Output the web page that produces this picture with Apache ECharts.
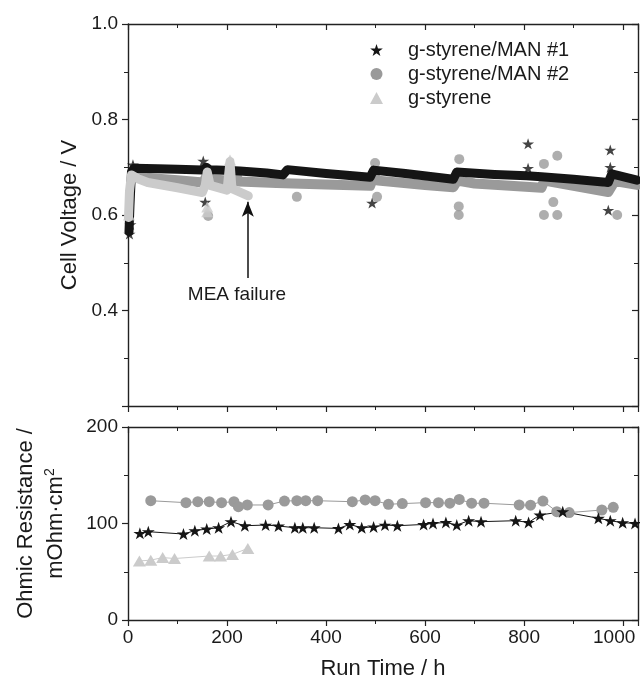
<!DOCTYPE html>
<html>
<head>
<meta charset="utf-8">
<script src="https://cdn.jsdelivr.net/npm/echarts@6/dist/echarts.min.js"></script>
<style>
html,body{margin:0;padding:0;background:#fff;}
#chart{width:640px;height:684px;}
</style>
</head>
<body>
<div id="chart"></div>
<script>
// ---------- DATA ----------
const seriesNames = ['g-styrene/MAN #1', 'g-styrene/MAN #2', 'g-styrene'];

// Cell voltage (dense bands) [time h, voltage V]
const man1Band = [[2,0.565],[4,0.62],[7,0.69],[12,0.698],[60,0.697],[100,0.696],[150,0.694],[158,0.70],[165,0.695],[206,0.693],[226,0.692],[280,0.688],[313,0.684],[322,0.695],[400,0.687],[489,0.679],[496,0.694],[560,0.687],[657,0.675],[664,0.690],[740,0.685],[805,0.682],[835,0.680],[900,0.675],[970,0.668],[977,0.686],[1028,0.673]];
const man1Outliers = [[3,0.56],[5,0.58],[10,0.705],[152,0.713],[156,0.627],[493,0.625],[808,0.749],[808,0.698],[974,0.736],[974,0.700],[970,0.61]];

const man2Band = [[14,0.680],[60,0.676],[100,0.673],[152,0.668],[160,0.685],[168,0.675],[210,0.671],[216,0.690],[224,0.670],[300,0.667],[400,0.664],[489,0.661],[496,0.680],[505,0.672],[600,0.663],[657,0.658],[665,0.672],[700,0.666],[835,0.657],[841,0.672],[900,0.661],[970,0.648],[983,0.671],[1028,0.663]];
const man2Outliers = [[162,0.598],[341,0.638],[499,0.709],[503,0.638],[669,0.717],[668,0.618],[668,0.600],[840,0.707],[867,0.724],[859,0.627],[840,0.600],[867,0.600],[988,0.600],[983,0.675]];

const styBand = [[1,0.595],[3,0.65],[7,0.684],[20,0.676],[40,0.668],[100,0.657],[150,0.647],[156,0.662],[160,0.690],[166,0.662],[200,0.652],[206,0.712],[210,0.655],[243,0.640]];
const styOutliers = [[160,0.617],[160,0.607],[206,0.715],[2,0.60]];

// Ohmic resistance [time h, mOhm·cm²]
const man1Res = [[24,89.8],[41,91.5],[112,89.1],[135,92.6],[159,94.3],[183,95.6],[208,101.9],[236,97.7],[278,98.4],[304,97.4],[337,95.6],[353,95.6],[376,95.6],[425,94.9],[448,99.0],[472,95.6],[496,96.5],[519,98.4],[544,97.7],[597,99.0],[616,100.1],[642,101.1],[664,98.4],[688,102.9],[713,101.9],[783,102.9],[809,101.1],[832,108.8],[878,112.3],[950,105.4],[974,102.9],[999,100.8],[1024,100.1]];
const man2Res = [[46,123.6],[117,121.6],[141,122.6],[164,122.6],[189,121.6],[214,122.6],[223,117.4],[241,119.2],[283,119.2],[316,123.3],[341,123.6],[359,123.6],[383,123.6],[453,122.6],[479,124.4],[499,123.6],[526,119.9],[554,120.6],[601,121.6],[627,121.6],[650,121.0],[669,125.0],[694,121.0],[719,121.0],[790,119.2],[813,119.0],[838,123.3],[866,112.3],[891,111.3],[957,114.0],[980,116.8]];
const styRes = [[23,61.2],[46,62.0],[70,64.7],[94,63.7],[164,66.3],[187,66.3],[211,68.0],[242,74.2]];

// annotation
const failureTime = 242;
const failureArrow = [0.468, 0.628];
const failureText = 'MEA failure';
const failureTextPos = [220, 0.432];

// axes
const xRange = [0, 1030];
const vRange = [0.2, 1.0];
const rRange = [0, 200];
const xTitle = 'Run Time / h';
const vTitle = 'Cell Voltage / V';
const rTitle = ['Ohmic Resistance /', 'mOhm·cm'];

// ---------- STYLE ----------
const C1 = '#151515', C2 = '#9a9a9a', C3 = '#cbcbcb';
const STAR = 'path://M50 0 L61.23 34.55 L97.55 34.55 L68.16 55.9 L79.39 90.45 L50 69.1 L20.61 90.45 L31.84 55.9 L2.45 34.55 L38.77 34.55 Z';
const FONT = 'Liberation Sans, Arial, sans-serif';
const AX = '#222';

const G0 = {left:128, top:24, width:510, height:382, containLabel:false, outerBoundsMode:'none'};
const G1 = {left:128, top:427, width:510, height:193, containLabel:false, outerBoundsMode:'none'};

function xAx(grid, pos, labels){
  return {
    type:'value', gridIndex:grid, position:pos, min:xRange[0], max:xRange[1], interval:200,
    axisLine:{show:true, onZero:false, lineStyle:{color:AX, width:1.4}},
    axisTick:{show:true, inside:pos==='top', length:6, lineStyle:{color:AX, width:1.2}},
    minorTick:{show:true, splitNumber:2, length:4, lineStyle:{color:AX, width:1}},
    axisLabel:{show:labels, color:'#1a1a1a', fontSize:19, fontFamily:FONT, margin:8,
      formatter:v=> v>1020 ? '' : (v===1000 ? '{r|1000}' : String(v)),
      rich:{r:{fontSize:19, fontFamily:FONT, color:'#1a1a1a', padding:[0,18,0,0]}}},
    splitLine:{show:false}, minorSplitLine:{show:false},
    name: labels ? xTitle : '', nameLocation:'middle', nameGap:38,
    nameTextStyle:{fontSize:22, color:'#1a1a1a', fontFamily:FONT}
  };
}
function yAx(grid, pos, range, itv, labels, fmt){
  return {
    type:'value', gridIndex:grid, position:pos, min:range[0], max:range[1], interval:itv,
    axisLine:{show:true, onZero:false, lineStyle:{color:AX, width:1.4}},
    axisTick:{show:true, inside:pos==='right', length:6, lineStyle:{color:AX, width:1.2}},
    minorTick:{show:true, splitNumber:2, length:4, lineStyle:{color:AX, width:1}},
    axisLabel:{show:labels, color:'#1a1a1a', fontSize:19, fontFamily:FONT, margin:10, formatter:fmt},
    splitLine:{show:false}, minorSplitLine:{show:false}
  };
}

const yTop = yAx(0,'left',vRange,0.2,true,v=> v<0.3?'':v.toFixed(1));
yTop.name = vTitle; yTop.nameLocation='middle'; yTop.nameGap=39; yTop.nameRotate=90;
yTop.nameTextStyle = {fontSize:22, color:'#1a1a1a', fontFamily:FONT};
const yBot = yAx(1,'left',rRange,100,true,v=>String(v));
yBot.name = '{a|' + rTitle[0] + '}\n{a|' + rTitle[1] + '}{s|2}';
yBot.nameLocation='middle'; yBot.nameGap=57; yBot.nameRotate=90;
yBot.nameTextStyle = {fontSize:22, color:'#1a1a1a', fontFamily:FONT, lineHeight:30,
  rich:{a:{fontSize:22, fontFamily:FONT, color:'#1a1a1a', lineHeight:30},
        s:{fontSize:14, fontFamily:FONT, color:'#1a1a1a', padding:[0,0,12,0]}}};

const option = {
  animation:false,
  backgroundColor:'#fff',
  grid:[G0, G1],
  xAxis:[xAx(0,'bottom',false), xAx(0,'top',false), xAx(1,'bottom',true), xAx(1,'top',false)],
  yAxis:[yTop, yAx(0,'right',vRange,0.2,false), yBot, yAx(1,'right',rRange,100,false)],
  legend:{
    orient:'vertical', left:365, top:35, itemGap:4, itemWidth:13, itemHeight:12,
    textStyle:{fontSize:20, color:'#1a1a1a', fontFamily:FONT, padding:[0,0,0,20]},
    data:[{name:seriesNames[0], icon:STAR},{name:seriesNames[1], icon:'circle'},{name:seriesNames[2], icon:'triangle'}]
  },
  series:[
    {name:seriesNames[1], type:'line', xAxisIndex:0, yAxisIndex:0, data:man2Band, symbol:'none', z:2,
      itemStyle:{color:C2}, lineStyle:{color:C2, width:10, join:'round', cap:'round'}},
    {name:seriesNames[1], type:'scatter', xAxisIndex:0, yAxisIndex:0, data:man2Outliers, symbol:'circle', symbolSize:10, z:2,
      itemStyle:{color:C2}},
    {name:seriesNames[0], type:'line', xAxisIndex:0, yAxisIndex:0, data:man1Band, symbol:'none', z:3,
      itemStyle:{color:C1}, lineStyle:{color:C1, width:9, join:'round', cap:'round'}},
    {name:seriesNames[0], type:'scatter', xAxisIndex:0, yAxisIndex:0, data:man1Outliers, symbol:STAR, symbolSize:[12,11], z:3,
      itemStyle:{color:C1}},
    {name:seriesNames[2], type:'line', xAxisIndex:0, yAxisIndex:0, data:styBand, symbol:'none', z:4,
      itemStyle:{color:C3}, lineStyle:{color:C3, width:9, join:'round', cap:'round'},
      markLine:{silent:true, symbol:['none','arrow'], symbolSize:[9,15], label:{show:false},
        lineStyle:{color:'#111', width:1.5, type:'solid'},
        data:[[{coord:[failureTime, failureArrow[0]]},{coord:[failureTime, failureArrow[1]]}]]}},
    {name:seriesNames[2], type:'scatter', xAxisIndex:0, yAxisIndex:0, data:styOutliers, symbol:'triangle', symbolSize:[12,11], z:4,
      itemStyle:{color:C3}},

    {name:seriesNames[1], type:'line', xAxisIndex:2, yAxisIndex:2, data:man2Res, symbol:'circle', symbolSize:11,
      itemStyle:{color:C2}, lineStyle:{color:C2, width:1}},
    {name:seriesNames[0], type:'line', xAxisIndex:2, yAxisIndex:2, data:man1Res, symbol:STAR, symbolSize:[13,12],
      itemStyle:{color:C1}, lineStyle:{color:C1, width:1}},
    {name:seriesNames[2], type:'line', xAxisIndex:2, yAxisIndex:2, data:styRes, symbol:'triangle', symbolSize:[13,11],
      itemStyle:{color:C3}, lineStyle:{color:C3, width:1}}
  ]
};

const chart = echarts.init(document.getElementById('chart'), null, {renderer:'canvas'});
chart.setOption(option);
const tp = chart.convertToPixel({gridIndex:0}, failureTextPos);
chart.setOption({graphic:[{type:'text', x:tp[0], y:tp[1], style:{text:failureText, fontSize:19, fontFamily:FONT, fill:'#1a1a1a', textAlign:'center', textVerticalAlign:'middle'}}]});
</script>
</body>
</html>
